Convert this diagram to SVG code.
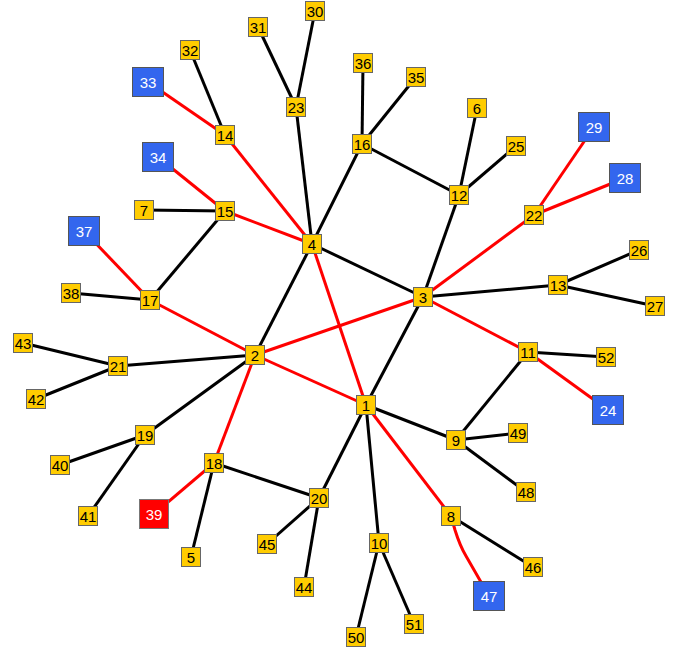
<svg xmlns="http://www.w3.org/2000/svg" width="682" height="654" viewBox="0 0 682 654">
<style>
.e{stroke:#000;stroke-width:3;fill:none}
.r{stroke:#f00;stroke-width:3;fill:none}
.n rect{fill:#ffcc00;stroke:#666;stroke-width:1}
.b rect{fill:#3366ee;stroke:#555;stroke-width:1}
.x rect{fill:#ff0000;stroke:#777;stroke-width:1}
text{font-family:"Liberation Sans",Arial,sans-serif;font-size:15px;text-anchor:middle;dominant-baseline:central}
.n text{fill:#000}
.b text,.x text{fill:#fff}
</style>
<rect width="682" height="654" fill="#fff"/>
<g id="edges">
<line class="r" x1="148" y1="82" x2="225" y2="135"/>
<line class="r" x1="225" y1="135" x2="312" y2="244"/>
<line class="r" x1="158" y1="157" x2="225" y2="211"/>
<line class="r" x1="225" y1="211" x2="312" y2="244"/>
<line class="r" x1="84" y1="231" x2="150" y2="300"/>
<line class="r" x1="150" y1="300" x2="255" y2="355"/>
<line class="r" x1="312" y1="244" x2="366" y2="405"/>
<line class="r" x1="255" y1="355" x2="423" y2="297"/>
<line class="r" x1="255" y1="355" x2="366" y2="405"/>
<line class="r" x1="423" y1="297" x2="534" y2="215"/>
<line class="r" x1="534" y1="215" x2="594" y2="127"/>
<line class="r" x1="534" y1="215" x2="625" y2="178"/>
<line class="r" x1="423" y1="297" x2="528" y2="352"/>
<line class="r" x1="528" y1="352" x2="608" y2="410"/>
<line class="r" x1="366" y1="405" x2="451" y2="516"/>
<path class="r" d="M451,516 L455,530 Q460,546 466,556 L489,596"/>
<line class="r" x1="255" y1="355" x2="214" y2="463"/>
<line class="r" x1="214" y1="463" x2="154" y2="514"/>
<line class="e" x1="190" y1="50" x2="225" y2="135"/>
<line class="e" x1="258" y1="27" x2="296" y2="107"/>
<line class="e" x1="315" y1="11" x2="296" y2="107"/>
<line class="e" x1="296" y1="107" x2="312" y2="244"/>
<line class="e" x1="144" y1="210" x2="225" y2="211"/>
<line class="e" x1="225" y1="211" x2="150" y2="300"/>
<line class="e" x1="71" y1="293" x2="150" y2="300"/>
<line class="e" x1="312" y1="244" x2="362" y2="144"/>
<line class="e" x1="362" y1="144" x2="363" y2="63"/>
<line class="e" x1="362" y1="144" x2="416" y2="77"/>
<line class="e" x1="362" y1="144" x2="459" y2="195"/>
<line class="e" x1="459" y1="195" x2="477" y2="108"/>
<line class="e" x1="459" y1="195" x2="516" y2="146"/>
<line class="e" x1="459" y1="195" x2="423" y2="297"/>
<line class="e" x1="312" y1="244" x2="423" y2="297"/>
<line class="e" x1="312" y1="244" x2="255" y2="355"/>
<line class="e" x1="423" y1="297" x2="558" y2="285"/>
<line class="e" x1="558" y1="285" x2="639" y2="250"/>
<line class="e" x1="558" y1="285" x2="655" y2="306"/>
<line class="e" x1="423" y1="297" x2="366" y2="405"/>
<line class="e" x1="528" y1="352" x2="606" y2="357"/>
<line class="e" x1="528" y1="352" x2="456" y2="440"/>
<line class="e" x1="366" y1="405" x2="456" y2="440"/>
<line class="e" x1="456" y1="440" x2="518" y2="433"/>
<line class="e" x1="456" y1="440" x2="526" y2="492"/>
<line class="e" x1="451" y1="516" x2="533" y2="567"/>
<line class="e" x1="366" y1="405" x2="379" y2="543"/>
<line class="e" x1="379" y1="543" x2="356" y2="637"/>
<line class="e" x1="379" y1="543" x2="414" y2="624"/>
<line class="e" x1="366" y1="405" x2="319" y2="498"/>
<line class="e" x1="319" y1="498" x2="267" y2="544"/>
<line class="e" x1="319" y1="498" x2="304" y2="587"/>
<line class="e" x1="214" y1="463" x2="319" y2="498"/>
<line class="e" x1="214" y1="463" x2="191" y2="557"/>
<line class="e" x1="255" y1="355" x2="118" y2="366"/>
<line class="e" x1="118" y1="366" x2="23" y2="343"/>
<line class="e" x1="118" y1="366" x2="36" y2="399"/>
<line class="e" x1="255" y1="355" x2="145" y2="435"/>
<line class="e" x1="145" y1="435" x2="60" y2="465"/>
<line class="e" x1="145" y1="435" x2="88" y2="516"/>
</g>
<g id="n1" class="n"><rect x="356.5" y="395.5" width="19" height="19"/><text x="366" y="405">1</text></g>
<g id="n2" class="n"><rect x="245.5" y="345.5" width="19" height="19"/><text x="255" y="355">2</text></g>
<g id="n3" class="n"><rect x="413.5" y="287.5" width="19" height="19"/><text x="423" y="297">3</text></g>
<g id="n4" class="n"><rect x="302.5" y="234.5" width="19" height="19"/><text x="312" y="244">4</text></g>
<g id="n5" class="n"><rect x="181.5" y="547.5" width="19" height="19"/><text x="191" y="557">5</text></g>
<g id="n6" class="n"><rect x="467.5" y="98.5" width="19" height="19"/><text x="477" y="108">6</text></g>
<g id="n7" class="n"><rect x="134.5" y="200.5" width="19" height="19"/><text x="144" y="210">7</text></g>
<g id="n8" class="n"><rect x="441.5" y="506.5" width="19" height="19"/><text x="451" y="516">8</text></g>
<g id="n9" class="n"><rect x="446.5" y="430.5" width="19" height="19"/><text x="456" y="440">9</text></g>
<g id="n10" class="n"><rect x="369.5" y="533.5" width="19" height="19"/><text x="379" y="543">10</text></g>
<g id="n11" class="n"><rect x="518.5" y="342.5" width="19" height="19"/><text x="528" y="352">11</text></g>
<g id="n12" class="n"><rect x="449.5" y="185.5" width="19" height="19"/><text x="459" y="195">12</text></g>
<g id="n13" class="n"><rect x="548.5" y="275.5" width="19" height="19"/><text x="558" y="285">13</text></g>
<g id="n14" class="n"><rect x="215.5" y="125.5" width="19" height="19"/><text x="225" y="135">14</text></g>
<g id="n15" class="n"><rect x="215.5" y="201.5" width="19" height="19"/><text x="225" y="211">15</text></g>
<g id="n16" class="n"><rect x="352.5" y="134.5" width="19" height="19"/><text x="362" y="144">16</text></g>
<g id="n17" class="n"><rect x="140.5" y="290.5" width="19" height="19"/><text x="150" y="300">17</text></g>
<g id="n18" class="n"><rect x="204.5" y="453.5" width="19" height="19"/><text x="214" y="463">18</text></g>
<g id="n19" class="n"><rect x="135.5" y="425.5" width="19" height="19"/><text x="145" y="435">19</text></g>
<g id="n20" class="n"><rect x="309.5" y="488.5" width="19" height="19"/><text x="319" y="498">20</text></g>
<g id="n21" class="n"><rect x="108.5" y="356.5" width="19" height="19"/><text x="118" y="366">21</text></g>
<g id="n22" class="n"><rect x="524.5" y="205.5" width="19" height="19"/><text x="534" y="215">22</text></g>
<g id="n23" class="n"><rect x="286.5" y="97.5" width="19" height="19"/><text x="296" y="107">23</text></g>
<g id="n24" class="b"><rect x="592.5" y="395.5" width="31" height="29"/><text x="608" y="410">24</text></g>
<g id="n25" class="n"><rect x="506.5" y="136.5" width="19" height="19"/><text x="516" y="146">25</text></g>
<g id="n26" class="n"><rect x="629.5" y="240.5" width="19" height="19"/><text x="639" y="250">26</text></g>
<g id="n27" class="n"><rect x="645.5" y="296.5" width="19" height="19"/><text x="655" y="306">27</text></g>
<g id="n28" class="b"><rect x="609.5" y="163.5" width="31" height="29"/><text x="625" y="178">28</text></g>
<g id="n29" class="b"><rect x="578.5" y="112.5" width="31" height="29"/><text x="594" y="127">29</text></g>
<g id="n30" class="n"><rect x="305.5" y="1.5" width="19" height="19"/><text x="315" y="11">30</text></g>
<g id="n31" class="n"><rect x="248.5" y="17.5" width="19" height="19"/><text x="258" y="27">31</text></g>
<g id="n32" class="n"><rect x="180.5" y="40.5" width="19" height="19"/><text x="190" y="50">32</text></g>
<g id="n33" class="b"><rect x="132.5" y="67.5" width="31" height="29"/><text x="148" y="82">33</text></g>
<g id="n34" class="b"><rect x="142.5" y="142.5" width="31" height="29"/><text x="158" y="157">34</text></g>
<g id="n35" class="n"><rect x="406.5" y="67.5" width="19" height="19"/><text x="416" y="77">35</text></g>
<g id="n36" class="n"><rect x="353.5" y="53.5" width="19" height="19"/><text x="363" y="63">36</text></g>
<g id="n37" class="b"><rect x="68.5" y="216.5" width="31" height="29"/><text x="84" y="231">37</text></g>
<g id="n38" class="n"><rect x="61.5" y="283.5" width="19" height="19"/><text x="71" y="293">38</text></g>
<g id="n39" class="x"><rect x="139.5" y="499.5" width="29" height="29"/><text x="154" y="514">39</text></g>
<g id="n40" class="n"><rect x="50.5" y="455.5" width="19" height="19"/><text x="60" y="465">40</text></g>
<g id="n41" class="n"><rect x="78.5" y="506.5" width="19" height="19"/><text x="88" y="516">41</text></g>
<g id="n42" class="n"><rect x="26.5" y="389.5" width="19" height="19"/><text x="36" y="399">42</text></g>
<g id="n43" class="n"><rect x="13.5" y="333.5" width="19" height="19"/><text x="23" y="343">43</text></g>
<g id="n44" class="n"><rect x="294.5" y="577.5" width="19" height="19"/><text x="304" y="587">44</text></g>
<g id="n45" class="n"><rect x="257.5" y="534.5" width="19" height="19"/><text x="267" y="544">45</text></g>
<g id="n46" class="n"><rect x="523.5" y="557.5" width="19" height="19"/><text x="533" y="567">46</text></g>
<g id="n47" class="b"><rect x="473.5" y="581.5" width="31" height="29"/><text x="489" y="596">47</text></g>
<g id="n48" class="n"><rect x="516.5" y="482.5" width="19" height="19"/><text x="526" y="492">48</text></g>
<g id="n49" class="n"><rect x="508.5" y="423.5" width="19" height="19"/><text x="518" y="433">49</text></g>
<g id="n50" class="n"><rect x="346.5" y="627.5" width="19" height="19"/><text x="356" y="637">50</text></g>
<g id="n51" class="n"><rect x="404.5" y="614.5" width="19" height="19"/><text x="414" y="624">51</text></g>
<g id="n52" class="n"><rect x="596.5" y="347.5" width="19" height="19"/><text x="606" y="357">52</text></g>
</svg>
